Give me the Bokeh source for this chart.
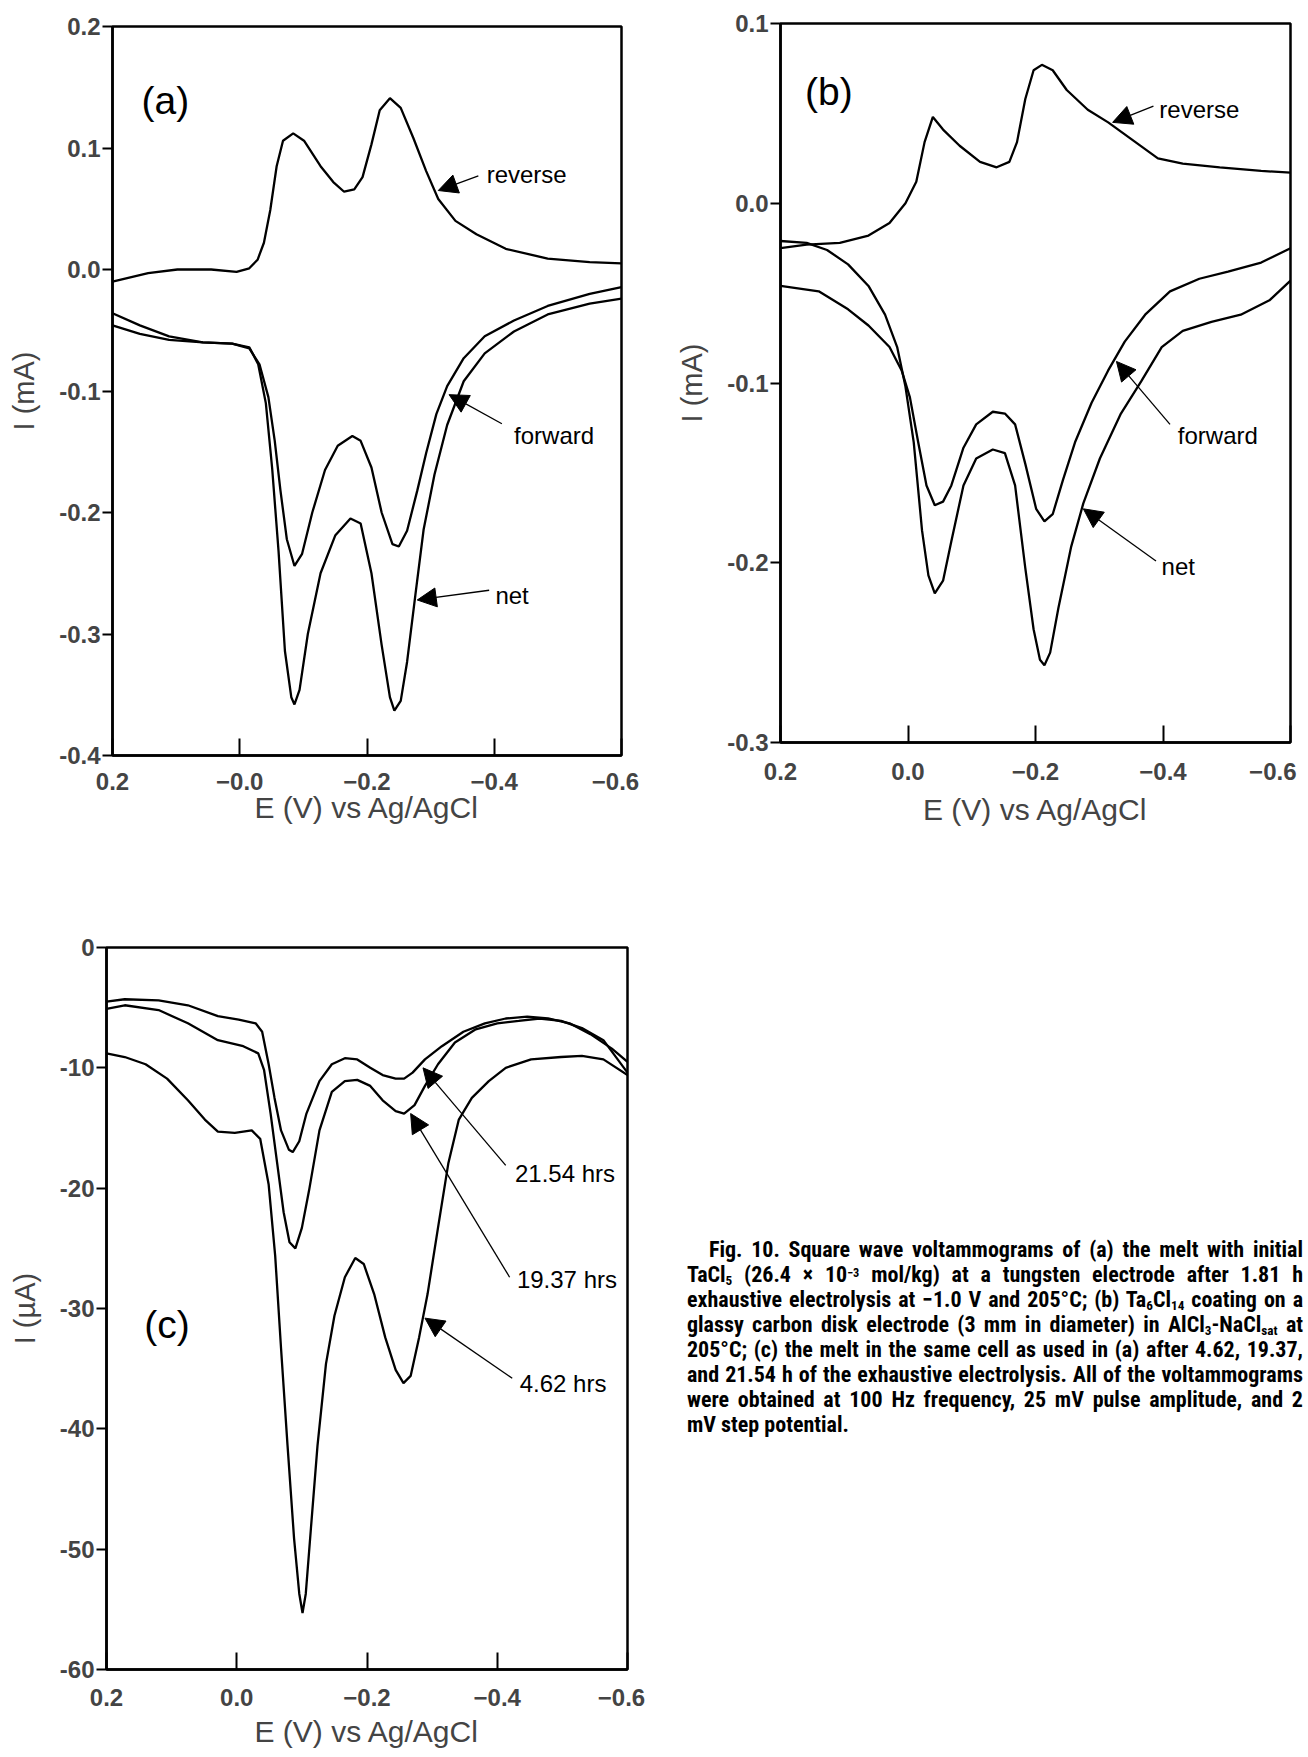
from bokeh.plotting import figure
from bokeh.layouts import row, column
from bokeh.models import Range1d, FixedTicker, Arrow, NormalHead, Label, Div
from bokeh.embed import file_html
from bokeh.resources import INLINE

# ---------------- data: (a) melt, tungsten electrode (current in mA) ----------------
a_rev_E = [0.2, 0.144, 0.098, 0.045, 0.005, -0.015, -0.028, -0.038, -0.048, -0.058,
           -0.068, -0.084, -0.101, -0.127, -0.147, -0.164, -0.180, -0.193, -0.207,
           -0.220, -0.236, -0.253, -0.273, -0.293, -0.312, -0.339, -0.372, -0.418,
           -0.484, -0.550, -0.6]
a_rev_I = [-0.010, -0.003, 0.000, 0.000, -0.002, 0.001, 0.008, 0.022, 0.049, 0.085,
           0.106, 0.112, 0.106, 0.085, 0.072, 0.064, 0.066, 0.076, 0.103,
           0.131, 0.141, 0.133, 0.108, 0.081, 0.058, 0.040, 0.029, 0.017,
           0.009, 0.006, 0.005]

a_fwd_E = [0.2, 0.157, 0.111, 0.058, 0.012, -0.015, -0.031, -0.045, -0.055, -0.064,
           -0.074, -0.086, -0.098, -0.114, -0.134, -0.154, -0.177, -0.190, -0.207,
           -0.223, -0.240, -0.250, -0.263, -0.279, -0.293, -0.309, -0.326, -0.352,
           -0.385, -0.431, -0.484, -0.550, -0.6]
a_fwd_I = [-0.046, -0.053, -0.058, -0.060, -0.061, -0.065, -0.078, -0.105, -0.141, -0.182,
           -0.222, -0.244, -0.234, -0.200, -0.165, -0.145, -0.137, -0.141, -0.163,
           -0.200, -0.226, -0.228, -0.215, -0.182, -0.151, -0.119, -0.096, -0.073,
           -0.055, -0.042, -0.030, -0.020, -0.0145]

a_net_E = [0.2, 0.157, 0.111, 0.058, 0.012, -0.015, -0.029, -0.041, -0.051, -0.061,
           -0.071, -0.081, -0.086, -0.094, -0.107, -0.127, -0.150, -0.174, -0.190,
           -0.207, -0.223, -0.236, -0.243, -0.253, -0.263, -0.276, -0.289, -0.306,
           -0.326, -0.352, -0.385, -0.431, -0.484, -0.550, -0.6]
a_net_I = [-0.036, -0.046, -0.055, -0.060, -0.061, -0.064, -0.078, -0.110, -0.164, -0.232,
           -0.314, -0.352, -0.358, -0.346, -0.300, -0.250, -0.219, -0.205, -0.209,
           -0.250, -0.309, -0.352, -0.363, -0.355, -0.323, -0.268, -0.214, -0.169,
           -0.128, -0.092, -0.069, -0.051, -0.037, -0.028, -0.024]

# ---------------- data: (b) Ta6Cl14 on glassy carbon (current in mA) ----------------
b_rev_E = [0.2, 0.159, 0.107, 0.062, 0.029, 0.004, -0.013, -0.026, -0.039, -0.055,
           -0.081, -0.113, -0.139, -0.159, -0.171, -0.184, -0.197, -0.210, -0.227,
           -0.249, -0.282, -0.314, -0.353, -0.392, -0.431, -0.489, -0.554, -0.6]
b_rev_I = [-0.025, -0.023, -0.022, -0.018, -0.011, 0.000, 0.012, 0.034, 0.048, 0.041,
           0.032, 0.023, 0.020, 0.023, 0.034, 0.058, 0.074, 0.077, 0.074,
           0.063, 0.052, 0.045, 0.035, 0.025, 0.022, 0.020, 0.018, 0.017]

b_fwd_E = [0.2, 0.140, 0.094, 0.062, 0.029, 0.010, -0.003, -0.016, -0.029, -0.042,
           -0.055, -0.068, -0.087, -0.107, -0.133, -0.152, -0.168, -0.184, -0.201,
           -0.214, -0.227, -0.243, -0.262, -0.288, -0.314, -0.340, -0.372, -0.411,
           -0.457, -0.502, -0.554, -0.6]
b_fwd_I = [-0.046, -0.049, -0.059, -0.068, -0.080, -0.093, -0.108, -0.133, -0.157, -0.168,
           -0.166, -0.157, -0.136, -0.123, -0.116, -0.117, -0.123, -0.145, -0.170,
           -0.177, -0.173, -0.154, -0.133, -0.111, -0.093, -0.077, -0.062, -0.049,
           -0.042, -0.038, -0.033, -0.025]

b_net_E = [0.2, 0.159, 0.127, 0.094, 0.062, 0.036, 0.017, 0.004, -0.009, -0.022,
           -0.032, -0.042, -0.055, -0.068, -0.087, -0.107, -0.133, -0.152, -0.168,
           -0.184, -0.197, -0.207, -0.214, -0.223, -0.236, -0.256, -0.275, -0.301,
           -0.334, -0.366, -0.398, -0.431, -0.476, -0.522, -0.567, -0.6]
b_net_I = [-0.021, -0.022, -0.026, -0.034, -0.046, -0.062, -0.080, -0.102, -0.133, -0.182,
           -0.207, -0.217, -0.210, -0.188, -0.157, -0.142, -0.137, -0.139, -0.157,
           -0.203, -0.237, -0.254, -0.257, -0.250, -0.225, -0.191, -0.167, -0.142,
           -0.117, -0.099, -0.080, -0.071, -0.066, -0.062, -0.054, -0.043]

# ---------------- data: (c) melt after exhaustive electrolysis (current in uA) ----------------
c_2154_E = [0.2, 0.172, 0.120, 0.075, 0.029, -0.003, -0.029, -0.039, -0.049, -0.058,
            -0.068, -0.080, -0.086, -0.096, -0.107, -0.127, -0.146, -0.166, -0.185,
            -0.205, -0.224, -0.244, -0.257, -0.270, -0.289, -0.315, -0.348, -0.381,
            -0.413, -0.446, -0.478, -0.511, -0.543, -0.576, -0.6]
c_2154_I = [-4.5, -4.3, -4.4, -4.8, -5.7, -6.0, -6.3, -7.0, -9.7, -12.5,
            -15.2, -16.8, -17.0, -16.1, -13.8, -11.1, -9.7, -9.2, -9.3,
            -10.0, -10.6, -10.9, -10.9, -10.4, -9.3, -8.2, -7.0, -6.3,
            -5.9, -5.75, -5.9, -6.3, -7.2, -8.4, -9.5]

c_1937_E = [0.2, 0.172, 0.120, 0.075, 0.029, -0.010, -0.033, -0.042, -0.052, -0.062,
            -0.072, -0.081, -0.090, -0.100, -0.111, -0.127, -0.146, -0.166, -0.185,
            -0.205, -0.224, -0.244, -0.257, -0.273, -0.289, -0.309, -0.335, -0.367,
            -0.400, -0.433, -0.465, -0.498, -0.530, -0.563, -0.6]
c_1937_I = [-5.1, -4.8, -5.2, -6.3, -7.7, -8.2, -8.8, -10.2, -13.8, -17.9,
            -22.0, -24.5, -25.0, -23.3, -20.2, -15.2, -12.0, -11.1, -11.0,
            -11.5, -12.7, -13.6, -13.8, -13.1, -11.5, -9.7, -7.9, -6.8,
            -6.3, -6.1, -5.9, -6.1, -6.7, -7.7, -10.4]

c_462_E = [0.2, 0.172, 0.140, 0.107, 0.075, 0.049, 0.029, 0.003, -0.023, -0.036,
           -0.049, -0.059, -0.068, -0.078, -0.088, -0.096, -0.101, -0.106, -0.114,
           -0.124, -0.137, -0.150, -0.166, -0.182, -0.195, -0.211, -0.228, -0.244,
           -0.256, -0.267, -0.280, -0.293, -0.309, -0.325, -0.341, -0.361, -0.387,
           -0.413, -0.452, -0.498, -0.530, -0.563, -0.6]
c_462_I = [-8.8, -9.1, -9.7, -10.9, -12.7, -14.3, -15.3, -15.4, -15.2, -15.9,
           -19.7, -25.6, -33.3, -41.4, -49.1, -53.7, -55.3, -53.7, -48.2,
           -41.4, -34.6, -30.6, -27.4, -25.8, -26.3, -28.8, -32.4, -35.1,
           -36.2, -35.6, -32.4, -28.8, -23.3, -17.9, -14.3, -12.5, -11.1,
           -10.0, -9.3, -9.1, -9.0, -9.3, -10.6]

# ---------------- axis ticks and labels ----------------
E_ticks = [0.2, 0.0, -0.2, -0.4, -0.6]
E_labels_a = ["0.2", "\u22120.0", "\u22120.2", "\u22120.4", "\u22120.6\u2002"]
E_labels_bc = ["0.2", "0.0", "\u22120.2", "\u22120.4", "\u22120.6\u2002"]

a_ticks = [0.2, 0.1, 0.0, -0.1, -0.2, -0.3, -0.4]
a_labels = ["0.2", "0.1", "0.0", "-0.1", "-0.2", "-0.3", "-0.4"]
b_ticks = [0.1, 0.0, -0.1, -0.2, -0.3]
b_labels = ["0.1", "0.0", "-0.1", "-0.2", "-0.3"]
c_ticks = [0, -10, -20, -30, -40, -50, -60]
c_labels = ["0", "-10", "-20", "-30", "-40", "-50", "-60"]

# curve call-outs: (text, text x, text y, arrow tail x, tail y, head x, head y)
a_notes = [("reverse", -0.451, 0.078, -0.375, 0.077, -0.312, 0.065),
           ("forward", -0.494, -0.137, -0.412, -0.127, -0.329, -0.103),
           ("net", -0.428, -0.268, -0.392, -0.264, -0.279, -0.272)]
b_notes = [("reverse", -0.457, 0.052, -0.385, 0.054, -0.321, 0.045),
           ("forward", -0.486, -0.129, -0.411, -0.123, -0.327, -0.088),
           ("net", -0.424, -0.202, -0.389, -0.199, -0.275, -0.170)]
c_notes = [("21.54 hrs", -0.504, -18.8, -0.413, -18.1, -0.286, -10.0),
           ("19.37 hrs", -0.507, -27.6, -0.419, -27.4, -0.267, -13.8),
           ("4.62 hrs", -0.501, -36.2, -0.423, -35.8, -0.289, -30.8)]

FONT = "Liberation Sans"


def make_panel(width, height, borders, y_range, y_ticks, y_labels, e_labels, y_title,
               tick_gap, title_gap):
    left, right, top, bottom = borders
    p = figure(width=width, height=height,
               x_range=Range1d(0.2, -0.6), y_range=Range1d(*y_range),
               output_backend="svg", toolbar_location=None,
               min_border_left=left, min_border_right=right,
               min_border_top=top, min_border_bottom=bottom,
               background_fill_color="white", border_fill_color="white")
    p.xgrid.visible = False
    p.ygrid.visible = False
    p.outline_line_color = "black"
    p.outline_line_width = 2.5
    p.outline_line_alpha = 1.0

    xa = p.xaxis[0]
    xa.ticker = FixedTicker(ticks=E_ticks)
    xa.major_label_overrides = dict(zip(E_ticks, e_labels))
    xa.major_tick_in = 17
    xa.major_tick_out = 0
    xa.major_tick_line_width = 2
    xa.minor_tick_line_color = None
    xa.axis_line_width = 2.5
    xa.major_label_standoff = tick_gap
    xa.major_label_text_font = FONT
    xa.major_label_text_font_size = "24px"
    xa.major_label_text_font_style = "bold"
    xa.axis_label = "E (V) vs Ag/AgCl"
    xa.axis_label_text_font = FONT
    xa.axis_label_text_font_size = "30px"
    xa.axis_label_text_font_style = "normal"
    xa.axis_label_standoff = title_gap

    ya = p.yaxis[0]
    ya.ticker = FixedTicker(ticks=y_ticks)
    ya.major_label_overrides = dict(zip(y_ticks, y_labels))
    ya.major_tick_in = 0
    ya.major_tick_out = 10
    ya.major_tick_line_width = 2
    ya.minor_tick_line_color = None
    ya.axis_line_width = 2.5
    ya.major_label_standoff = 2
    ya.major_label_text_font = FONT
    ya.major_label_text_font_size = "24px"
    ya.major_label_text_font_style = "bold"
    ya.axis_label = y_title
    ya.axis_label_text_font = FONT
    ya.axis_label_text_font_size = "29px"
    ya.axis_label_text_font_style = "normal"
    ya.axis_label_standoff = 16
    return p


def annotate(p, notes, tag, tag_x, tag_y):
    for text, tx, ty, x0, y0, x1, y1 in notes:
        p.add_layout(Label(x=tx, y=ty, text=text, text_align="center",
                           text_baseline="middle", text_font=FONT,
                           text_font_size="24px", text_color="black"))
        p.add_layout(Arrow(x_start=x0, y_start=y0, x_end=x1, y_end=y1,
                           line_color="black", line_width=1.3,
                           end=NormalHead(size=19, fill_color="black",
                                          line_color="black", line_width=1)))
    p.add_layout(Label(x=tag_x, y=tag_y, text=tag, text_align="center",
                       text_baseline="middle", text_font=FONT,
                       text_font_size="39px", text_color="black"))


LINE = dict(line_color="black", line_width=2.3)

pa = make_panel(660, 880, (112, 39, 26, 125), (-0.4, 0.2), a_ticks, a_labels,
                E_labels_a, "I (mA)", 12, -7)
pa.line(a_rev_E, a_rev_I, **LINE)
pa.line(a_fwd_E, a_fwd_I, **LINE)
pa.line(a_net_E, a_net_I, **LINE)
annotate(pa, a_notes, "(a)", 0.117, 0.139)

pb = make_panel(648, 880, (120, 18, 23, 138), (-0.3, 0.1), b_ticks, b_labels,
                E_labels_bc, "I (mA)", 15, 5)
pb.line(b_rev_E, b_rev_I, **LINE)
pb.line(b_fwd_E, b_fwd_I, **LINE)
pb.line(b_net_E, b_net_I, **LINE)
annotate(pb, b_notes, "(b)", 0.124, 0.062)

pc = make_panel(660, 874, (106, 33, 67, 85), (-60, 0), c_ticks, c_labels,
                E_labels_bc, "I (\u00b5A)", 14, 1)
pc.line(c_2154_E, c_2154_I, **LINE)
pc.line(c_1937_E, c_1937_I, **LINE)
pc.line(c_462_E, c_462_I, **LINE)
annotate(pc, c_notes, "(c)", 0.107, -31.3)

# ---------------- figure caption ----------------
SUB = '<span style="font-size:0.6em; line-height:0; vertical-align:-0.2em;">'
SUP = '<span style="font-size:0.56em; line-height:0; vertical-align:0.42em;">'
caption_lines = [
    "Fig. 10. Square wave voltammograms of (a) the melt with initial",
    "TaCl" + SUB + "5</span> (26.4 &times; 10" + SUP + "&minus;3</span> mol/kg) at a tungsten electrode after 1.81 h",
    "exhaustive electrolysis at &minus;1.0 V and 205&deg;C; (b) Ta" + SUB + "6</span>Cl" + SUB + "14</span> coating on a",
    "glassy carbon disk electrode (3 mm in diameter) in AlCl" + SUB + "3</span>-NaCl" + SUB + "sat</span> at",
    "205&deg;C; (c) the melt in the same cell as used in (a) after 4.62, 19.37,",
    "and 21.54 h of the exhaustive electrolysis. All of the voltammograms",
    "were obtained at 100 Hz frequency, 25 mV pulse amplitude, and 2",
    "mV step potential.",
]
rows_html = []
for i, txt in enumerate(caption_lines):
    if i == len(caption_lines) - 1:
        style = "text-align:left;"
    else:
        style = "text-align:justify; text-align-last:justify;"
    if i == 0:
        style += " text-indent:22px;"
    rows_html.append('<div style="%s">%s</div>' % (style, txt))

caption_html = (
    '<div style="box-sizing:border-box; margin:0; margin-left:22px; padding-top:352px; '
    "width:616px; font-family:'Roboto Condensed','Liberation Sans Narrow','Roboto',sans-serif; "
    'font-weight:700; font-size:22px; line-height:25px; color:#000;">'
    + "".join(rows_html) + "</div>"
)
caption = Div(text=caption_html, width=648, height=874)

layout = column(row(column(pa), column(pb)), row(column(pc), caption))

with open("out.html", "w") as f:
    f.write(file_html(layout, INLINE))
